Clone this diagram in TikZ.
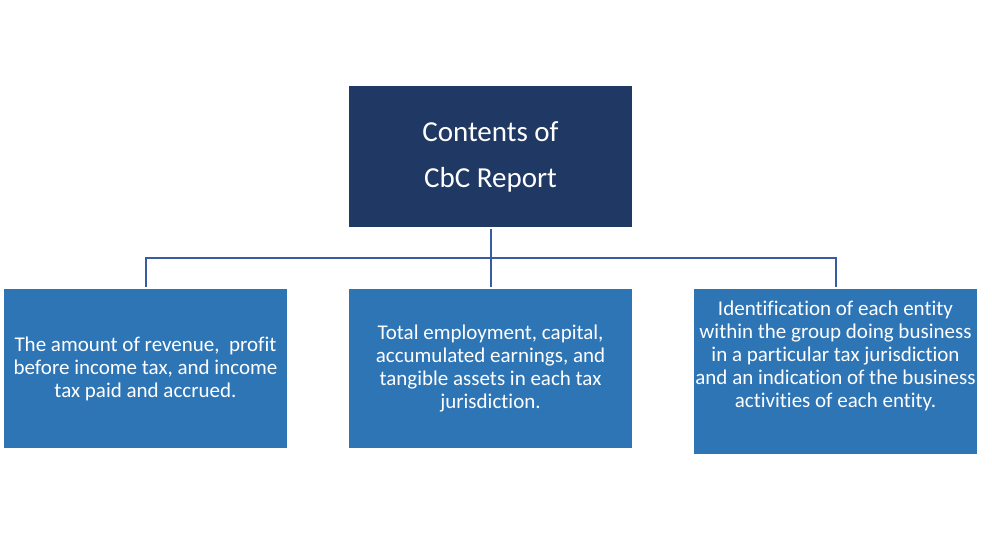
\documentclass[tikz,border=0pt]{standalone}
\usepackage{fontspec}
\setmainfont[Ligatures=NoCommon]{Carlito}
\definecolor{navy}{HTML}{1F3864}
\definecolor{midblue}{HTML}{2E75B6}
\definecolor{linkblue}{HTML}{3A5BA0}
\begin{document}
\begin{tikzpicture}[x=1pt,y=-1pt,
  topbox/.style={fill=navy,draw=none,minimum width=283,minimum height=141,inner sep=0,text=white,align=center,font=\fontsize{29}{46}\selectfont},
  subbox/.style={fill=midblue,draw=none,minimum width=283,inner sep=0,text=white,align=center,font=\fontsize{21}{23}\selectfont},
  subtext/.style={text=white,align=center,inner sep=0,font=\fontsize{21}{23}\selectfont},
  conn/.style={draw=linkblue,line width=2pt}]
\useasboundingbox (0,0) rectangle (992,541);
\node[topbox] (top) at (490.5,156.5) {Contents of\\CbC Report};
\node[subbox,minimum height=159] (left) at (145.5,368.5) {The amount of revenue, \ profit\\before income tax, and income\\tax paid and accrued.};
\node[subbox,minimum height=159] (mid) at (490.5,368.5) {Total employment, capital,\\accumulated earnings, and\\tangible assets in each tax\\jurisdiction.};
\node[subbox,minimum height=165] (right) at (835.5,371.5) {};
\node[subtext] (righttext) at (835.5,356) {Identification of each entity\\within the group doing business\\in a particular tax jurisdiction\\and an indication of the business\\activities of each entity.};
\coordinate (bus) at (490.5,258);
\draw[conn,shorten <=2pt,shorten >=2pt] (top.south) -- (mid.north);
\draw[conn,shorten <=2pt,shorten >=2pt] (left.north) |- (bus) -| (right.north);
\end{tikzpicture}
\end{document}
